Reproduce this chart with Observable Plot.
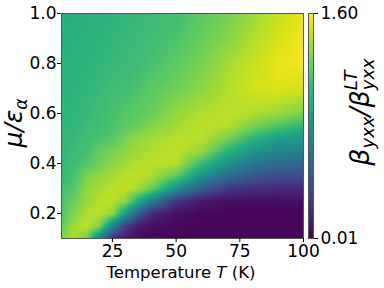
<!DOCTYPE html>
<html><head><meta charset="utf-8">
<script src="https://cdn.jsdelivr.net/npm/d3@7"></script>
<script src="https://cdn.jsdelivr.net/npm/@observablehq/plot@0.6"></script>
<style>
body{margin:0;background:#fff;}
#wrap{position:relative;width:384px;height:288px;font-family:"DejaVu Sans",sans-serif;overflow:hidden;}
#wrap svg{position:absolute;top:0;}
</style></head><body><div id="wrap"></div>
<script>
// Temperature T (K) columns and mu/epsilon_alpha rows of the map
const temperatures = [5, 10, 15, 20, 25, 30, 35, 40, 50, 60, 70, 80, 90, 100];
const muValues = [0.1, 0.15, 0.2, 0.25, 0.3, 0.35, 0.4, 0.45, 0.5, 0.55, 0.6, 0.7, 0.8, 0.9, 1.0];
// beta_yxx / beta_yxx^LT, one row per mu value
const ratio010 = [1.28,1.41,1.25,0.65,0.20,0.09,0.06,0.04,0.03,0.03,0.03,0.03,0.03,0.03];
const ratio015 = [1.22,1.38,1.44,1.28,0.73,0.30,0.12,0.07,0.04,0.03,0.03,0.03,0.03,0.03];
const ratio020 = [1.15,1.31,1.41,1.44,1.35,0.88,0.49,0.20,0.07,0.04,0.03,0.03,0.03,0.03];
const ratio025 = [1.15,1.25,1.36,1.43,1.44,1.33,1.00,0.68,0.25,0.11,0.07,0.06,0.06,0.07];
const ratio030 = [1.11,1.17,1.35,1.39,1.43,1.44,1.39,1.25,0.81,0.46,0.28,0.22,0.20,0.20];
const ratio035 = [1.09,1.14,1.28,1.35,1.39,1.43,1.44,1.41,1.20,0.81,0.57,0.44,0.38,0.36];
const ratio040 = [1.08,1.11,1.17,1.25,1.33,1.38,1.41,1.43,1.43,1.09,0.81,0.65,0.57,0.53];
const ratio045 = [1.06,1.09,1.12,1.23,1.28,1.33,1.38,1.41,1.44,1.36,1.04,0.84,0.74,0.71];
const ratio050 = [1.06,1.08,1.11,1.14,1.17,1.28,1.35,1.38,1.43,1.43,1.28,1.04,0.90,0.84];
const ratio055 = [1.04,1.06,1.09,1.12,1.15,1.19,1.23,1.31,1.38,1.43,1.43,1.28,1.15,1.04];
const ratio060 = [1.04,1.06,1.08,1.11,1.14,1.17,1.20,1.23,1.35,1.41,1.44,1.41,1.36,1.28];
const ratio070 = [1.03,1.04,1.06,1.08,1.11,1.12,1.15,1.19,1.25,1.33,1.41,1.49,1.52,1.49];
const ratio080 = [1.03,1.03,1.04,1.06,1.08,1.09,1.11,1.14,1.20,1.28,1.38,1.46,1.54,1.58];
const ratio090 = [1.01,1.03,1.03,1.04,1.06,1.08,1.09,1.11,1.15,1.23,1.31,1.41,1.50,1.57];
const ratio100 = [1.01,1.01,1.03,1.03,1.04,1.06,1.08,1.09,1.12,1.19,1.27,1.36,1.46,1.54];
const ratioRows = [ratio010,ratio015,ratio020,ratio025,ratio030,ratio035,ratio040,ratio045,ratio050,ratio055,ratio060,ratio070,ratio080,ratio090,ratio100];

const xDomain = [5, 100];
const yDomain = [0.1, 1.0];
const xTicks = [25, 50, 75, 100];
const yTicks = [0.2, 0.4, 0.6, 0.8, 1.0];
const colorDomain = [0.01, 1.60];
const colorTicks = [0.01, 1.60];

// bilinear lookup in the read grid (rendering of the cells)
function locate(arr, v) {
  let i = d3.bisectRight(arr, v) - 1;
  i = Math.max(0, Math.min(arr.length - 2, i));
  const f = Math.max(0, Math.min(1, (v - arr[i]) / (arr[i + 1] - arr[i])));
  return [i, f];
}
function ratioAt(T, mu) {
  const [j, fx] = locate(temperatures, T);
  const [i, fy] = locate(muValues, mu);
  const a = ratioRows[i][j], b = ratioRows[i][j + 1];
  const c = ratioRows[i + 1][j], d = ratioRows[i + 1][j + 1];
  return (a * (1 - fx) + b * fx) * (1 - fy) + (c * (1 - fx) + d * fx) * fy;
}

const color = {type: "linear", scheme: "viridis", domain: colorDomain};
const style = {fontFamily: "DejaVu Sans", fontSize: "17px", color: "#000", background: "transparent", overflow: "visible"};

const main = Plot.plot({
  width: 305, height: 288,
  marginLeft: 61, marginRight: 2, marginTop: 13, marginBottom: 50,
  style,
  x: {domain: xDomain},
  y: {domain: yDomain},
  color,
  marks: [
    Plot.raster({fill: (T, mu) => ratioAt(T, mu),
      x1: xDomain[0], x2: xDomain[1], y1: yDomain[0], y2: yDomain[1], pixelSize: 1}),
    Plot.frame({stroke: "#555", strokeWidth: 1}),
    Plot.axisX(xTicks, {tickSize: 4, tickPadding: 2, label: null}),
    Plot.axisY(yTicks, {tickSize: 4, tickPadding: 1, tickFormat: d3.format(".1f"), label: null})
  ]
});
main.style.left = "0px";

const bar = Plot.plot({
  width: 84, height: 288,
  marginLeft: 8, marginRight: 71, marginTop: 13, marginBottom: 50,
  style,
  x: {domain: [0, 1], axis: null},
  y: {domain: colorDomain},
  color,
  marks: [
    Plot.raster({fill: (x, y) => y, x1: 0, x2: 1, y1: colorDomain[0], y2: colorDomain[1], pixelSize: 1}),
    Plot.frame({stroke: "#555", strokeWidth: 1}),
    Plot.axisY(colorTicks, {anchor: "right", tickSize: 4, tickPadding: 3, tickFormat: d3.format(".2f"), label: null})
  ]
});
bar.style.left = "300px";

const wrap = document.getElementById("wrap");
wrap.appendChild(main);
wrap.appendChild(bar);

// Labels overlay
const ov = d3.select(wrap).append("svg").attr("width", 384).attr("height", 288)
  .style("left", "0px").style("font-family", "DejaVu Sans").style("pointer-events", "none");

// x label
const xl = ov.append("text").attr("x", 181).attr("y", 278).attr("text-anchor", "middle").attr("font-size", 16.5);
xl.append("tspan").text("Temperature ");
xl.append("tspan").attr("font-style", "italic").text("T");
xl.append("tspan").text(" (K)");

// y label
const yg = ov.append("g").attr("transform", "translate(22,123) rotate(-90)");
const yl = yg.append("text").attr("text-anchor", "middle").attr("font-size", 25).attr("font-style", "italic");
yl.append("tspan").text("μ/ε");
yl.append("tspan").attr("font-size", 17).attr("dy", 5).text("α");

// colorbar label
const cg = ov.append("g").attr("transform", "translate(369,112) rotate(-90)");
const ct = cg.append("text").attr("font-size", 27).attr("font-style", "italic");
ct.append("tspan").text("β");
ct.append("tspan").attr("font-size", 18).attr("dy", 5).text("yxx");
ct.append("tspan").attr("dy", -5).text("/β");
const lastSub = ct.append("tspan").attr("font-size", 18).attr("dy", 5).text("yxx");
const total = ct.node().getComputedTextLength();
const subLen = lastSub.node().getComputedTextLength();
ct.attr("x", -total / 2);
cg.append("text").attr("font-size", 18).attr("font-style", "italic")
  .attr("x", -total / 2 + total - subLen).attr("y", -12).text("LT");
</script></body></html>
